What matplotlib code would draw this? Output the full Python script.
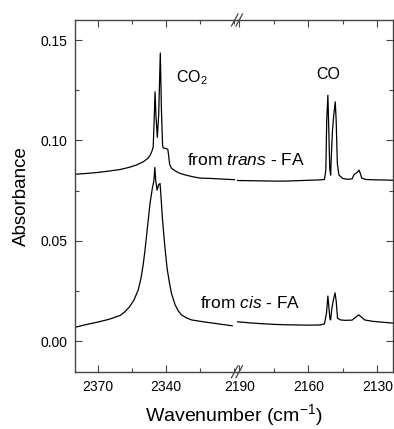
import matplotlib
matplotlib.use("Agg")
import matplotlib.pyplot as plt
from matplotlib.ticker import MultipleLocator

plt.rcParams['font.family'] = ['Liberation Sans', 'DejaVu Sans']
plt.rcParams['mathtext.fontset'] = 'custom'
plt.rcParams['mathtext.rm'] = 'Liberation Sans'
plt.rcParams['mathtext.it'] = 'Liberation Sans:italic'

# ---- data: CO2 region (left segment) ----
trans_co2_x = [2380, 2375, 2370, 2365, 2360, 2356, 2353, 2350, 2348, 2347, 2346.2, 2345.6,
               2345.2, 2344.8, 2344.4, 2343.8, 2343.2, 2342.5, 2342.0, 2341.5, 2341.2, 2340.2,
               2339.2, 2338.8, 2338.4, 2337.5, 2336, 2334, 2331, 2328, 2325, 2320, 2315, 2310]
trans_co2_y = [0.0831, 0.0835, 0.0840, 0.0847, 0.0855, 0.0866, 0.0877, 0.0893, 0.0910, 0.0925,
               0.0945, 0.0968, 0.110, 0.1242, 0.112, 0.1015, 0.113, 0.1435, 0.115, 0.0975,
               0.0962, 0.0960, 0.0955, 0.0920, 0.0880, 0.0860, 0.0848, 0.0836, 0.0826, 0.0818,
               0.0812, 0.0810, 0.0807, 0.0804]

cis_co2_x = [2380, 2375, 2370, 2365, 2360, 2358, 2356, 2354, 2352.2, 2351, 2350, 2349.2, 2348,
             2347, 2346, 2345.3, 2344.9, 2344.5, 2343.9, 2343.2, 2342.6, 2342.2, 2341.5, 2340.5,
             2339.5, 2338.5, 2337.6, 2336, 2334.5, 2333.2, 2331, 2328.8, 2325, 2320, 2315, 2311]
cis_co2_y = [0.0068, 0.0082, 0.0094, 0.0108, 0.0128, 0.0146, 0.0170, 0.0205, 0.0254, 0.031,
             0.038, 0.0453, 0.058, 0.0686, 0.076, 0.080, 0.0865, 0.080, 0.0752, 0.078, 0.0785,
             0.072, 0.060, 0.047, 0.036, 0.029, 0.0237, 0.018, 0.0148, 0.013, 0.0115, 0.0105,
             0.0098, 0.0090, 0.0082, 0.0076]

# ---- data: CO region (right segment) ----
trans_co_x = [2191, 2185, 2180, 2175, 2170, 2165, 2160, 2155, 2153, 2152.4, 2152.0, 2151.5,
              2151.1, 2150.7, 2150.3, 2149.9, 2149.5, 2149.0, 2148.3, 2147.9, 2147.4, 2146.7,
              2145, 2143, 2141, 2140.1, 2139.5, 2138.8, 2138.0, 2137.4, 2136.8, 2135, 2130,
              2125, 2123.2]
trans_co_y = [0.0800, 0.0799, 0.0798, 0.0797, 0.0797, 0.0799, 0.0801, 0.0803, 0.0805, 0.085,
              0.110, 0.1225, 0.105, 0.086, 0.0827, 0.095, 0.105, 0.112, 0.1192, 0.110, 0.0885,
              0.0827, 0.0810, 0.0806, 0.0808, 0.0830, 0.0835, 0.0840, 0.0852, 0.0835, 0.0812,
              0.0805, 0.0803, 0.0802, 0.0801]

cis_co_x = [2191, 2185, 2180, 2175, 2170, 2165, 2160, 2155, 2153, 2152.1, 2151.5, 2151.0,
            2150.6, 2150.3, 2149.8, 2149.2, 2148.4, 2147.9, 2147.3, 2146, 2144, 2141, 2139.8,
            2138.1, 2137, 2135.5, 2132, 2128, 2124, 2123.2]
cis_co_y = [0.0096, 0.0090, 0.0086, 0.0083, 0.0081, 0.0080, 0.0079, 0.0080, 0.0085, 0.014,
            0.0224, 0.016, 0.011, 0.0105, 0.016, 0.020, 0.0240, 0.020, 0.0113, 0.0105, 0.0103,
            0.0104, 0.0115, 0.0130, 0.0120, 0.0105, 0.0098, 0.0094, 0.0090, 0.0089]

left_ticks = [2370, 2340]
right_ticks = [2190, 2160, 2130]
y_ticks = [0.00, 0.05, 0.10, 0.15]

W, H = 394, 429
fig = plt.figure(figsize=(W / 100, H / 100), dpi=100)
x0, xb, x1 = 74.7 / W, 237 / W, 393 / W
y0, y1 = 1 - 371.7 / H, 1 - 20 / H
ax1 = fig.add_axes([x0, y0, xb - x0, y1 - y0])
ax2 = fig.add_axes([xb, y0, x1 - xb, y1 - y0], sharey=ax1)
ax2.patch.set_visible(False)

spine_col = '#444444'
for ax in (ax1, ax2):
    for s in ax.spines.values():
        s.set_color(spine_col)
        s.set_linewidth(1.0)
    ax.tick_params(which='both', direction='in', top=True, color=spine_col,
                   labelsize=10, labelcolor='black')
    ax.tick_params(which='major', length=5, width=0.8)
    ax.tick_params(which='minor', length=3, width=0.8)
    ax.tick_params(axis='x', pad=6)
    ax.tick_params(axis='y', pad=5)

ax1.plot(trans_co2_x, trans_co2_y, color='black', lw=0.9)
ax1.plot(cis_co2_x, cis_co2_y, color='black', lw=0.9)
ax2.plot(trans_co_x, trans_co_y, color='black', lw=0.9)
ax2.plot(cis_co_x, cis_co_y, color='black', lw=0.9)

ax1.set_xlim(2380, 2308.9)
ax2.set_xlim(2191.0, 2123.2)
ax1.set_ylim(-0.0153, 0.160)

ax1.set_xticks(left_ticks)
ax1.xaxis.set_minor_locator(MultipleLocator(15))
ax2.set_xticks(right_ticks)
ax2.xaxis.set_minor_locator(MultipleLocator(15))
ax1.set_yticks(y_ticks)
ax1.set_yticklabels(['0.00', '0.05', '0.10', '0.15'])
ax1.yaxis.set_minor_locator(MultipleLocator(0.025))

ax1.spines['right'].set_visible(False)
ax2.spines['left'].set_visible(False)
ax1.tick_params(which='both', right=False)
ax2.tick_params(which='both', left=False, right=True, labelleft=False)

# axis break marks
for yy in (0, 1):
    for dx in (-0.014, 0.014):
        ax1.plot([1 + dx - 0.02, 1 + dx + 0.02], [yy - 0.017, yy + 0.017],
                 transform=ax1.transAxes, color=spine_col, lw=0.9, clip_on=False)

ax1.set_ylabel('Absorbance', fontsize=13.5, labelpad=8)
fig.text((74.7 + 393) / 2 / W, 1 - 415 / H, 'Wavenumber (cm$^{-1}$)', fontsize=14,
         ha='center', va='center')

ax1.text(2335.5, 0.1287, 'CO$_2$', fontsize=11.5, ha='left', va='baseline')
ax2.text(2156.7, 0.1306, 'CO', fontsize=11.5, ha='left', va='baseline')
ax2.text(2161.4, 0.0876, 'from $\\mathit{trans}$ - FA', fontsize=12.5, ha='right', va='baseline')
ax2.text(2163.5, 0.0166, 'from $\\mathit{cis}$ - FA', fontsize=12.5, ha='right', va='baseline')

fig.savefig('out.png', dpi=100)
